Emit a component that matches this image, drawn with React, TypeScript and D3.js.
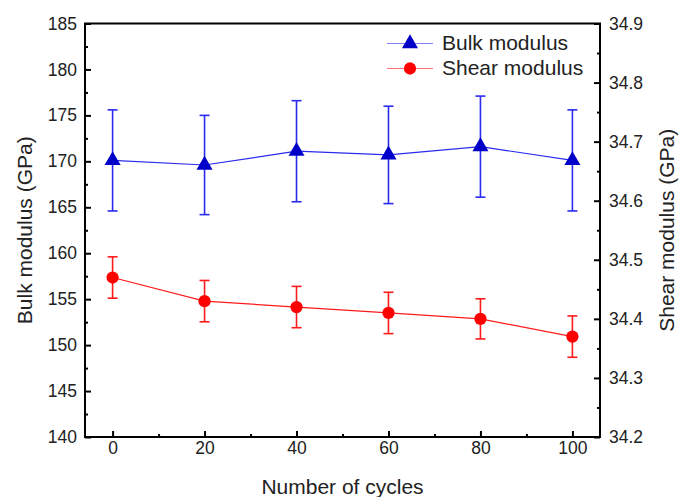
import React, { useEffect, useRef } from 'react';
import * as d3 from 'd3';

const cycles = [0, 20, 40, 60, 80, 100];
const bulk = [170.1, 169.6, 171.1, 170.7, 171.6, 170.1];
const bulkErr = [5.5, 5.4, 5.5, 5.3, 5.5, 5.5];
const shear = [34.47, 34.43, 34.42, 34.41, 34.4, 34.37];
const shearErr = [0.035, 0.035, 0.035, 0.035, 0.034, 0.035];
const xTicks = [0, 20, 40, 60, 80, 100];
const leftTicks = [140, 145, 150, 155, 160, 165, 170, 175, 180, 185];
const rightTicks = [34.2, 34.3, 34.4, 34.5, 34.6, 34.7, 34.8, 34.9];

const FONT = '"Liberation Sans", Arial, sans-serif';

const App = () => {
  const svgRef = useRef<SVGSVGElement>(null);

  useEffect(() => {
    const svg = d3.select(svgRef.current);
    svg.selectAll('*').remove();

    const width = 685;
    const margin = { top: 23.5, right: 85, left: 85 };
    const plotW = width - margin.left - margin.right;
    const bottom = 437;

    const x = d3.scaleLinear().domain([-6, 106]).range([margin.left, margin.left + plotW]);
    const yL = d3.scaleLinear().domain([140, 185]).range([bottom, margin.top]);
    const yR = d3.scaleLinear().domain([34.2, 34.9]).range([bottom, margin.top]);

    const styleAxis = (g, size) => {
      g.select('.domain').remove();
      g.selectAll('.tick line').attr('stroke', '#000').attr('stroke-width', 2);
      g.selectAll('text').attr('font-family', FONT).attr('font-size', size).attr('fill', '#222');
    };

    // x axis
    svg.append('g')
      .attr('transform', `translate(0,${bottom})`)
      .call(d3.axisBottom(x).tickValues(xTicks).tickSize(-6).tickPadding(5))
      .call(g => styleAxis(g, 17.5));
    svg.append('g')
      .attr('transform', `translate(0,${bottom})`)
      .call(d3.axisBottom(x).tickValues([10, 30, 50, 70, 90]).tickSize(-3).tickFormat(() => ''))
      .call(g => styleAxis(g, 0));

    // left axis
    svg.append('g')
      .attr('transform', `translate(${margin.left},0)`)
      .call(d3.axisLeft(yL).tickValues(leftTicks).tickSize(-6).tickPadding(8))
      .call(g => styleAxis(g, 17.5));
    svg.append('g')
      .attr('transform', `translate(${margin.left},0)`)
      .call(d3.axisLeft(yL).tickValues(leftTicks.slice(0, -1).map(v => v + 2.5)).tickSize(-3).tickFormat(() => ''))
      .call(g => styleAxis(g, 0));

    // right axis
    const right = margin.left + plotW;
    svg.append('g')
      .attr('transform', `translate(${right},0)`)
      .call(d3.axisRight(yR).tickValues(rightTicks).tickSize(-6).tickPadding(9).tickFormat(d3.format('.1f')))
      .call(g => styleAxis(g, 17.5));
    svg.append('g')
      .attr('transform', `translate(${right},0)`)
      .call(d3.axisRight(yR).tickValues(rightTicks.slice(0, -1).map(v => v + 0.05)).tickSize(-3).tickFormat(() => ''))
      .call(g => styleAxis(g, 0));

    // frame
    svg.append('rect')
      .attr('x', margin.left)
      .attr('y', margin.top)
      .attr('width', plotW)
      .attr('height', bottom - margin.top)
      .attr('fill', 'none')
      .attr('stroke', '#000')
      .attr('stroke-width', 2);

    // titles
    svg.append('text')
      .attr('x', (margin.left + right) / 2)
      .attr('y', 494)
      .attr('text-anchor', 'middle')
      .attr('font-family', FONT)
      .attr('font-size', 21)
      .attr('fill', '#222')
      .text('Number of cycles');
    svg.append('text')
      .attr('transform', `translate(32,${(margin.top + bottom) / 2}) rotate(-90)`)
      .attr('text-anchor', 'middle')
      .attr('font-family', FONT)
      .attr('font-size', 21)
      .attr('fill', '#222')
      .text('Bulk modulus (GPa)');
    svg.append('text')
      .attr('transform', `translate(674,${(margin.top + bottom) / 2}) rotate(-90)`)
      .attr('text-anchor', 'middle')
      .attr('font-family', FONT)
      .attr('font-size', 21)
      .attr('fill', '#222')
      .text('Shear modulus (GPa)');

    const series = [
      { vals: bulk, errs: bulkErr, y: yL, line: '#2a2af0', marker: '#0000c8', shape: d3.symbolTriangle, size: 112 },
      { vals: shear, errs: shearErr, y: yR, line: '#ff1a1a', marker: '#ff0000', shape: d3.symbolCircle, size: 118 },
    ];

    series.forEach(s => {
      const g = svg.append('g');
      const line = d3.line<number>().x((_, i) => x(cycles[i])).y(d => s.y(d));
      g.append('path')
        .attr('d', line(s.vals))
        .attr('fill', 'none')
        .attr('stroke', s.line)
        .attr('stroke-width', 1.2);

      const eb = g.selectAll('.eb').data(s.vals).join('g');
      eb.append('line')
        .attr('x1', (_, i) => x(cycles[i]))
        .attr('x2', (_, i) => x(cycles[i]))
        .attr('y1', (d, i) => s.y(d - s.errs[i]))
        .attr('y2', (d, i) => s.y(d + s.errs[i]))
        .attr('stroke', s.line)
        .attr('stroke-width', 1.6);
      [1, -1].forEach(sign => {
        eb.append('line')
          .attr('x1', (_, i) => x(cycles[i]) - 5)
          .attr('x2', (_, i) => x(cycles[i]) + 5)
          .attr('y1', (d, i) => s.y(d + sign * s.errs[i]))
          .attr('y2', (d, i) => s.y(d + sign * s.errs[i]))
          .attr('stroke', s.line)
          .attr('stroke-width', 1.6);
      });

      g.selectAll('.mk').data(s.vals).join('path')
        .attr('d', d3.symbol().type(s.shape).size(s.size)())
        .attr('transform', (d, i) => `translate(${x(cycles[i])},${s.y(d)})`)
        .attr('fill', s.marker);
    });

    // legend
    const legend = [
      { label: 'Bulk modulus', y: 43.5, s: series[0], base: 50 },
      { label: 'Shear modulus', y: 68.5, s: series[1], base: 75 },
    ];
    legend.forEach(l => {
      svg.append('line')
        .attr('x1', 387).attr('x2', 433)
        .attr('y1', l.y).attr('y2', l.y)
        .attr('stroke', l.s.line)
        .attr('stroke-opacity', 0.6)
        .attr('stroke-width', 1);
      svg.append('path')
        .attr('d', d3.symbol().type(l.s.shape).size(l.s.size)())
        .attr('transform', `translate(410,${l.y})`)
        .attr('fill', l.s.marker);
      svg.append('text')
        .attr('x', 442)
        .attr('y', l.base)
        .attr('font-family', FONT)
        .attr('font-size', 21)
        .attr('fill', '#222')
        .text(l.label);
    });
  }, []);

  return (
    <div>
      <svg ref={svgRef} width={685} height={497} style={{ position: 'absolute', left: 0, top: 0, background: '#fff' }}></svg>
    </div>
  );
};

export default App;
